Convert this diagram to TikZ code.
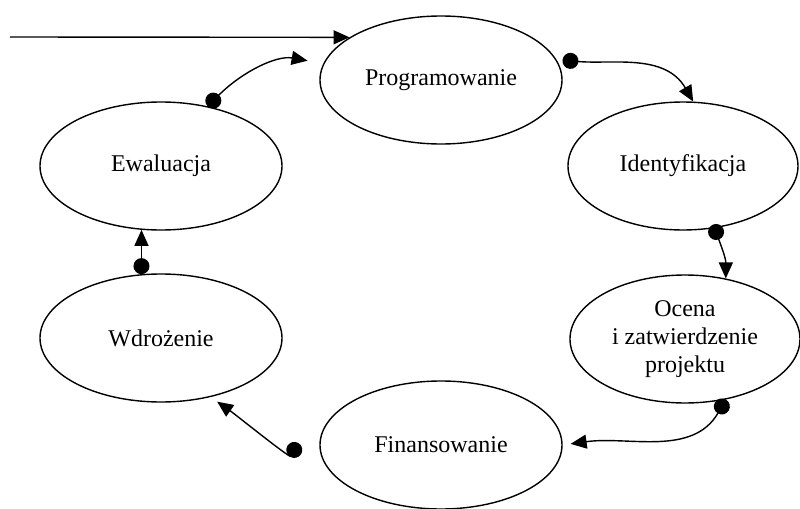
\documentclass[tikz,border=0pt]{standalone}
\usepackage{fontspec}
\setmainfont{Liberation Serif}
\usetikzlibrary{shapes.geometric,arrows.meta}

\begin{document}
\begin{tikzpicture}
[stagedecorate/.style={shape=ellipse,draw,line width=0.7pt,inner sep=0pt,%
  minimum height=64pt,align=center,font=\fontsize{12pt}{14pt}\selectfont},%
  linedecorate/.style={{Circle[length=8pt]}-{Triangle[length=8pt,width=7pt]},line width=0.7pt},%
  entrydecorate/.style={-{Triangle[length=8pt,width=7pt]},line width=0.7pt},%
  x=0.5pt,y=0.5pt]
\useasboundingbox (0,0) rectangle (800,-509);
%% stages of the cycle
\foreach \nodename/\x/\y/\w/\txt in {prog/441/-80/121/Programowanie,
  ident/683/-166/115/Identyfikacja,
  ocena/685/-339/115/{Ocena\\i zatwierdzenie\\projektu},
  finans/441/-445/121/Finansowanie, wdroz/161/-338/121/Wdrożenie,
  ewal/161/-166/121/Ewaluacja}
{
  \node (\nodename) at (\x,\y) [stagedecorate,minimum width=\w pt] {\txt};
}
%% free ends
\coordinate (entry) at (10,-37);
\coordinate (finout) at ([xshift=-10.5pt,yshift=1pt]finans.west);
%% connectors between stages
\path
\foreach \startnode/\endnode/\a/\b/\sa/\sb in {ewal.52/prog.172/45/170/0pt/8pt,
  prog.10/ident.81/-5/120/3pt/0pt, ident.-63/ocena.56/-70/90/-2pt/0pt,
  ocena.-56/finans.east/-120/8/0pt/4pt, wdroz.107/ewal.-107/90/-90/0pt/0pt}
{
  (\startnode) edge[linedecorate,out=\a,in=\b,shorten <=\sa,shorten >=\sb] (\endnode)
};
\draw[linedecorate,out=-120,in=-35,out looseness=0.45,in looseness=0.8,
  shorten >=4pt] (finout) to (wdroz.-50);
\draw[entrydecorate] (entry) -- (prog.155);
\end{tikzpicture}
\end{document}
